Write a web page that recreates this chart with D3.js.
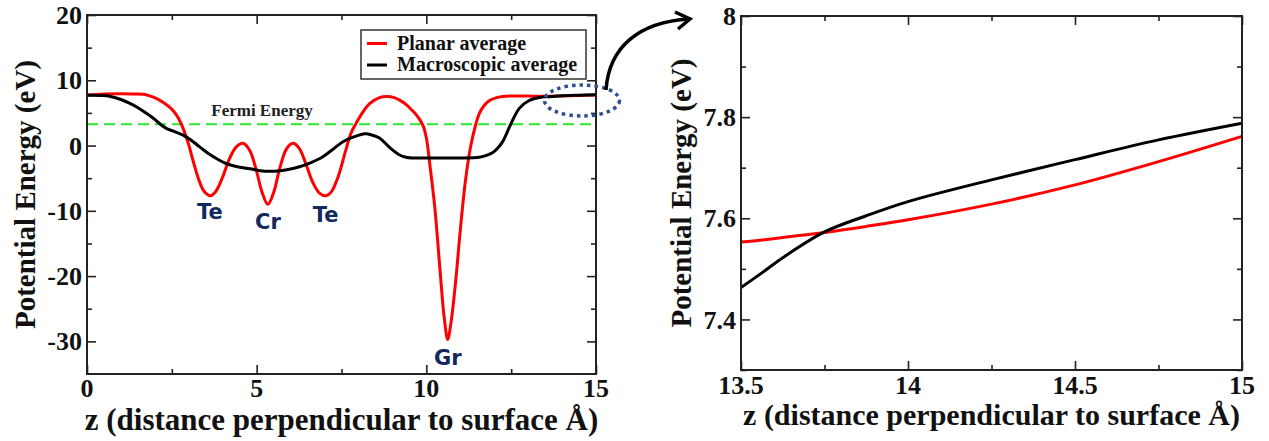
<!DOCTYPE html>
<html><head><meta charset="utf-8">
<script src="https://cdn.jsdelivr.net/npm/d3@7"></script>
<style>
html,body{margin:0;padding:0;background:#fff;}
svg{display:block;}
</style></head>
<body>
<svg id="c" width="1269" height="441"></svg>
<script>
// ---------- data ----------
const zPlanar = [0, 0.5, 1.0, 1.4, 1.65, 1.85, 2.05, 2.25, 2.45, 2.62, 2.78, 2.97, 3.13, 3.3, 3.45, 3.64, 3.8, 4.0, 4.2, 4.4, 4.6, 4.8, 5.0, 5.15, 5.33, 5.5, 5.68, 5.88, 6.07, 6.25, 6.45, 6.65, 6.85, 7.04, 7.2, 7.4, 7.6, 7.78, 7.93, 8.1, 8.32, 8.62, 8.85, 9.05, 9.2, 9.4, 9.6, 9.75, 9.9, 10.0, 10.11, 10.25, 10.41, 10.53, 10.63, 10.73, 10.87, 11.0, 11.15, 11.3, 11.46, 11.56, 11.7, 11.85, 12.05, 12.24, 12.5, 12.74, 13.0, 13.5, 14.0, 14.5, 15.0];
const ePlanar = [7.75, 7.9, 7.95, 7.9, 7.85, 7.6, 7.2, 6.6, 5.8, 4.8, 3.3, 0.6, -2.4, -5.3, -7.0, -7.7, -7.0, -4.8, -2.0, -0.2, 0.35, -0.8, -4.0, -7.0, -9.0, -7.2, -3.5, -0.5, 0.35, -0.4, -2.8, -5.6, -7.3, -7.7, -7.1, -4.8, -1.2, 1.9, 3.4, 4.9, 6.4, 7.35, 7.5, 7.35, 7.0, 6.3, 5.3, 4.4, 3.1, 1.2, -3.2, -9.5, -19.5, -26.5, -29.7, -27.0, -20.5, -13.0, -5.5, -0.3, 3.3, 4.9, 6.1, 6.85, 7.3, 7.5, 7.6, 7.6, 7.58, 7.55, 7.6, 7.67, 7.76];

const zMacro = [0, 0.5, 0.75, 1.0, 1.25, 1.5, 1.75, 2.0, 2.15, 2.35, 2.55, 2.83, 3.05, 3.32, 3.6, 3.85, 4.1, 4.4, 4.8, 5.1, 5.38, 5.7, 6.0, 6.26, 6.6, 6.94, 7.24, 7.53, 7.8, 8.2, 8.4, 8.62, 8.9, 9.2, 9.4, 9.6, 10.0, 10.5, 11.0, 11.56, 11.75, 11.95, 12.1, 12.25, 12.49, 12.74, 13.03, 13.42, 13.5, 14.0, 14.5, 15.0];
const eMacro = [7.7, 7.65, 7.45, 7.05, 6.5, 5.8, 4.95, 4.0, 3.3, 2.6, 2.2, 1.6, 0.9, -0.2, -1.3, -2.1, -2.75, -3.2, -3.55, -3.85, -3.95, -3.85, -3.6, -3.25, -2.6, -1.75, -0.6, 0.55, 1.2, 1.8, 1.6, 1.15, -0.2, -1.4, -1.8, -1.9, -1.9, -1.9, -1.9, -1.8, -1.55, -1.1, -0.4, 0.6, 3.3, 5.7, 6.9, 7.45, 7.46, 7.63, 7.72, 7.79];

const zZoom = [13.5, 13.5625, 13.625, 13.75, 13.875, 14.0, 14.25, 14.5, 14.75, 15.0];
const ePlanarZoom = [7.553, 7.557, 7.562, 7.572, 7.584, 7.597, 7.628, 7.666, 7.712, 7.762];
const eMacroZoom = [7.463, 7.492, 7.522, 7.573, 7.605, 7.633, 7.676, 7.716, 7.755, 7.788];

const fermiEnergy = 3.26;
const atomLabels = ["Te", "Cr", "Te", "Gr"];
const atomZ = [3.62, 5.33, 7.03, 10.63];
const atomE = [-10.2, -11.7, -10.6, -32.5];
const seriesNames = ["Planar average", "Macroscopic average"];
const seriesColors = ["#ff0000", "#000000"];
const xTitle = "z (distance perpendicular to surface Å)";
const yTitle = "Potential Energy (eV)";

// ---------- drawing ----------
const svg = d3.select("#c");
const SERIF = "'Liberation Serif', 'Times New Roman', serif";
const SANS = "'DejaVu Sans', Verdana, sans-serif";
const sf = (sel, size) => sel.style("font-family", SERIF).style("font-weight", "bold").style("font-size", size + "px");

function panel(opts) {
  const {x0, x1, y0, y1, xDom, yDom, xMajor, xMinor, yMajor, yMinor, xFmt, yFmt, xLabelY, yTitleX, xTitleY, xTitleSize} = opts;
  const x = d3.scaleLinear().domain(xDom).range([x0, x1]);
  const y = d3.scaleLinear().domain(yDom).range([y1, y0]);
  const g = svg.append("g");
  const majLen = opts.majLen || 9, minLen = opts.minLen || 5;
  const tickStyle = s => s.attr("stroke", "#222").attr("stroke-width", 1.6);
  const axDefs = [
    {ax: () => d3.axisBottom(x), tr: `translate(0,${y1})`, ticks: xMajor, minor: xMinor},
    {ax: () => d3.axisTop(x), tr: `translate(0,${y0})`, ticks: xMajor, minor: xMinor},
    {ax: () => d3.axisLeft(y), tr: `translate(${x0},0)`, ticks: yMajor, minor: yMinor},
    {ax: () => d3.axisRight(y), tr: `translate(${x1},0)`, ticks: yMajor, minor: yMinor}
  ];
  axDefs.forEach(d => {
    [[d.ticks, majLen], [d.minor, minLen]].forEach(([tv, len]) => {
      const gg = g.append("g").attr("transform", d.tr).call(d.ax().tickValues(tv).tickSize(-len).tickFormat(""));
      gg.select(".domain").remove();
      gg.selectAll("line").call(tickStyle);
    });
  });
  g.selectAll(".xl").data(xMajor).join("text")
    .attr("x", d => x(d)).attr("y", xLabelY).attr("text-anchor", "middle")
    .attr("fill", "#111").text(xFmt).call(sf, 26);
  g.selectAll(".yl").data(yMajor).join("text")
    .attr("x", x0 - 5).attr("y", d => y(d)).attr("dy", "0.35em").attr("text-anchor", "end")
    .attr("fill", "#111").text(yFmt).call(sf, 26);
  g.append("text").attr("x", (x0 + x1) / 2).attr("y", xTitleY).attr("text-anchor", "middle")
    .attr("fill", "#111").text(xTitle).call(sf, xTitleSize);
  g.append("text").attr("transform", `translate(${yTitleX},${(y0 + y1) / 2}) rotate(-90)`)
    .attr("text-anchor", "middle").attr("dy", "0.35em")
    .attr("fill", "#111").text(yTitle).call(sf, 29);
  return {x, y, g, frame: () => g.append("rect").attr("x", x0).attr("y", y0).attr("width", x1 - x0).attr("height", y1 - y0)
    .attr("fill", "none").attr("stroke", "#222").attr("stroke-width", 2)};
}

// ---- left panel ----
const L = panel({
  x0: 87, x1: 596, y0: 15, y1: 374, xDom: [0, 15], yDom: [-35, 20],
  xMajor: [0, 5, 10, 15], xMinor: [2.5, 7.5, 12.5],
  yMajor: [-30, -20, -10, 0, 10, 20], yMinor: [-25, -15, -5, 5, 15],
  xFmt: d => d, yFmt: d => d, xLabelY: 397, yTitleX: 25, xTitleY: 430, xTitleSize: 31, majLen: 9, minLen: 5
});
const curve = d3.curveCatmullRom.alpha(0.5);
const lineL = (zs, es) => d3.line().x((d, i) => L.x(zs[i])).y((d, i) => L.y(es[i])).curve(curve)(zs);

L.g.append("line").attr("x1", L.x(0)).attr("x2", L.x(15)).attr("y1", L.y(fermiEnergy)).attr("y2", L.y(fermiEnergy))
  .attr("stroke", "#2ee62e").attr("stroke-width", 2.2).attr("stroke-dasharray", "11,6");
L.g.append("text").attr("x", 262).attr("y", 116).attr("text-anchor", "middle")
  .attr("fill", "#222").text("Fermi Energy").call(sf, 17);

L.g.append("path").attr("d", lineL(zPlanar, ePlanar)).attr("fill", "none").attr("stroke", seriesColors[0]).attr("stroke-width", 3);
L.g.append("path").attr("d", lineL(zMacro, eMacro)).attr("fill", "none").attr("stroke", seriesColors[1]).attr("stroke-width", 3);
L.frame();

L.g.selectAll(".atom").data(atomLabels).join("text")
  .attr("x", (d, i) => L.x(atomZ[i])).attr("y", (d, i) => L.y(atomE[i])).attr("dy", "0.35em").attr("text-anchor", "middle")
  .style("font-family", SANS).style("font-weight", "bold").style("font-size", "21px")
  .attr("fill", "#11295e").text(d => d);

// legend
const lg = L.g.append("g");
lg.append("rect").attr("x", 361).attr("y", 30).attr("width", 225).attr("height", 49)
  .attr("fill", "#fff").attr("stroke", "#333").attr("stroke-width", 1.5);
seriesNames.forEach((n, i) => {
  const yy = 43.5 + i * 21.5;
  lg.append("line").attr("x1", 367).attr("x2", 387).attr("y1", yy).attr("y2", yy).attr("stroke", seriesColors[i]).attr("stroke-width", 3);
  lg.append("text").attr("x", 397).attr("y", yy + 6).attr("fill", "#111").text(n).call(sf, 20);
});

// ellipse + arrow
svg.append("ellipse").attr("cx", 582).attr("cy", 100.5).attr("rx", 37.5).attr("ry", 15.5)
  .attr("fill", "none").attr("stroke", "#2f4f8f").attr("stroke-width", 3.5).attr("stroke-dasharray", "3.5,4");
svg.append("path").attr("d", "M606,90 C609,46 640,22 689,19").attr("fill", "none").attr("stroke", "#000").attr("stroke-width", 3.5);
svg.append("path").attr("d", "M675,12 L690,19 L678,29").attr("fill", "none").attr("stroke", "#000").attr("stroke-width", 3.5);

// ---- right panel ----
const R = panel({
  x0: 741, x1: 1242, y0: 16, y1: 370, xDom: [13.5, 15], yDom: [7.3, 8.0],
  xMajor: [13.5, 14, 14.5, 15], xMinor: [13.75, 14.25, 14.75],
  yMajor: [7.4, 7.6, 7.8, 8.0], yMinor: [7.3, 7.5, 7.7, 7.9],
  xFmt: d => d, yFmt: d => (d === 8 ? "8" : d.toFixed(1)), xLabelY: 394, yTitleX: 681, xTitleY: 425, xTitleSize: 30, majLen: 9, minLen: 5
});
const lineR = (zs, es) => d3.line().x((d, i) => R.x(zs[i])).y((d, i) => R.y(es[i])).curve(curve)(zs);
R.g.append("path").attr("d", lineR(zZoom, ePlanarZoom)).attr("fill", "none").attr("stroke", seriesColors[0]).attr("stroke-width", 3);
R.g.append("path").attr("d", lineR(zZoom, eMacroZoom)).attr("fill", "none").attr("stroke", seriesColors[1]).attr("stroke-width", 3);
R.frame();
</script>
</body></html>
